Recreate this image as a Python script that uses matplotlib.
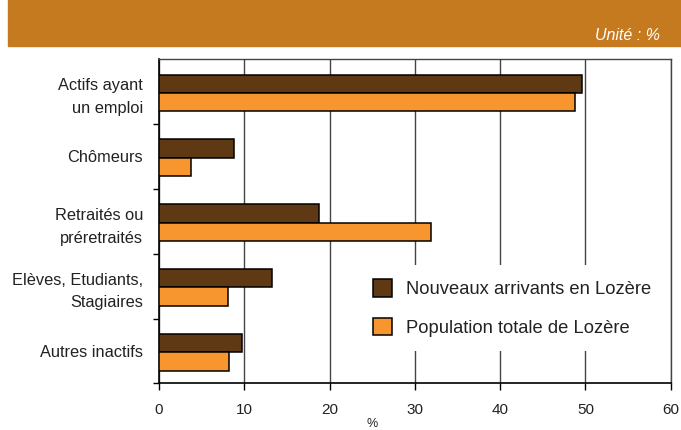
import matplotlib
matplotlib.use("Agg")
import matplotlib.pyplot as plt
from matplotlib.patches import Rectangle, Patch
import numpy as np

plt.rcParams['font.family'] = ['Liberation Sans', 'DejaVu Sans']

categories = ["Actifs ayant\nun emploi", "Chômeurs", "Retraités ou\npréretraités",
              "Elèves, Etudiants,\nStagiaires", "Autres inactifs"]
nouveaux = [49.6, 8.8, 18.8, 13.3, 9.7]
population = [48.8, 3.7, 31.9, 8.1, 8.2]
series_labels = ["Nouveaux arrivants en Lozère", "Population totale de Lozère"]
xticks = [0, 10, 20, 30, 40, 50, 60]

DARK = "#5f3914"
ORANGE = "#f7962f"
BANNER = "#c57a20"

W, H = 681, 430
fig = plt.figure(figsize=(W / 100, H / 100), dpi=100)

# banner
fig.patches.append(Rectangle((8 / W, 1 - 46 / H), 1 - 8 / W, 46 / H,
                             transform=fig.transFigure, color=BANNER, zorder=0))
fig.text(660 / W, 1 - 35 / H, "Unité : %", color="white", fontsize=11.5,
         style="italic", ha="right", va="center")

ax = fig.add_axes([159 / W, 1 - 383.3 / H, (670.7 - 159) / W, (383.3 - 59.3) / H])

y = np.arange(len(categories))
h = 0.285
ax.barh(y - h / 2 + 0.02, nouveaux, height=h, color=DARK, edgecolor="black",
        linewidth=1.1, zorder=3, label=series_labels[0])
ax.barh(y + h / 2 + 0.02, population, height=h, color=ORANGE, edgecolor="black",
        linewidth=1.1, zorder=3, label=series_labels[1])

ax.set_xlim(0, 60)
ax.set_ylim(len(categories) - 0.5, -0.5)
ax.set_xticks(xticks)
ax.set_xticklabels([str(v) for v in xticks], fontsize=11, color="#222222")
ax.tick_params(axis="x", direction="out", length=5, width=1, pad=9, color="black")

ax.set_yticks(y)
ax.set_yticklabels(categories, fontsize=11.8, color="#222222", linespacing=1.65)
ax.tick_params(axis="y", which="major", length=0, pad=11.5)
ax.set_yticks(np.arange(0.5, len(categories) + 0.5, 1), minor=True)
ax.tick_params(axis="y", which="minor", direction="out", length=4, width=1, color="black")

ax.grid(axis="x", color="#444444", linewidth=1, zorder=1)
ax.set_axisbelow(True)
for side in ["top", "right"]:
    ax.spines[side].set_color("#444444")
    ax.spines[side].set_linewidth(1)
for side in ["left", "bottom"]:
    ax.spines[side].set_color("black")
    ax.spines[side].set_linewidth(1.2)

fig.text(372 / W, 1 - 424 / H, "%", fontsize=9, color="#222222", ha="center", va="center")

handles = [Patch(facecolor=DARK, edgecolor="black", linewidth=1.1),
           Patch(facecolor=ORANGE, edgecolor="black", linewidth=1.1)]
leg = ax.legend(handles, series_labels, loc="center left",
                bbox_to_anchor=((358 - 159) / (670.7 - 159), 1 - (308 - 59.3) / (383.3 - 59.3)),
                fontsize=13.2, frameon=True, fancybox=False, facecolor="white",
                edgecolor="none", framealpha=1, handlelength=1.05, handleheight=1.1,
                handletextpad=0.75, labelspacing=1.05, borderpad=0.8, borderaxespad=0)
for t in leg.get_texts():
    t.set_color("#222222")
leg.set_zorder(5)

fig.savefig("out.png", dpi=100)
